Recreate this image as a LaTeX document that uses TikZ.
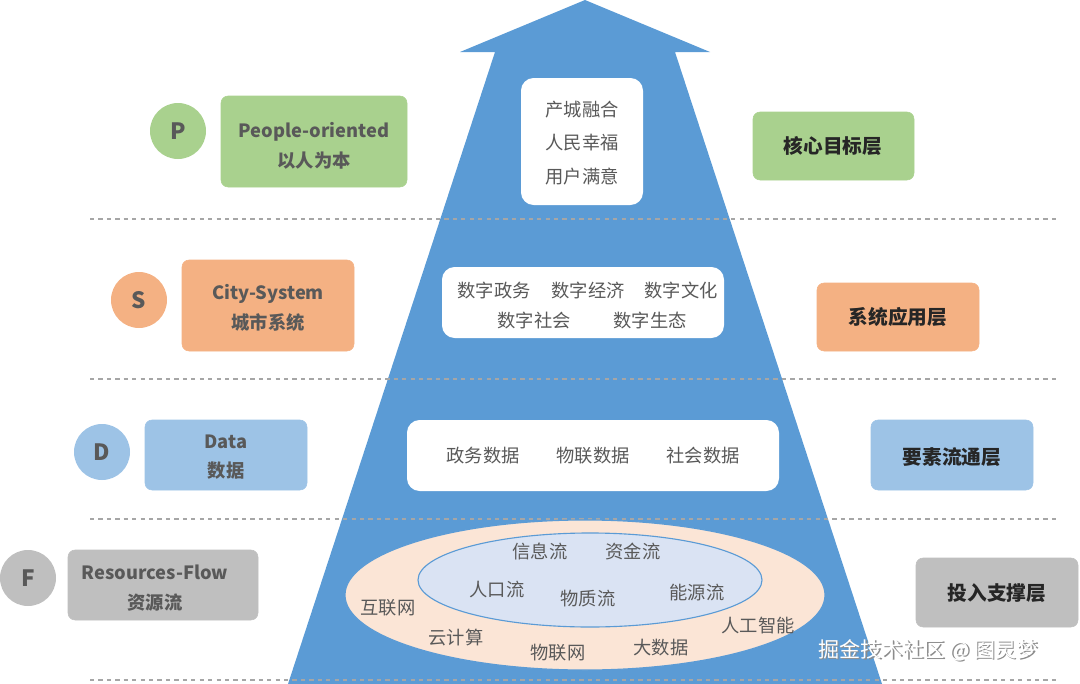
\documentclass[tikz,border=0pt]{standalone}
\usepackage{fontspec}
\setmainfont{Noto Sans CJK SC}
\usetikzlibrary{calc,positioning}
\definecolor{pyrblue}{HTML}{5B9BD5}
\definecolor{pgreen}{HTML}{A9D18E}
\definecolor{sorange}{HTML}{F4B183}
\definecolor{dblue}{HTML}{9DC3E6}
\definecolor{fgray}{HTML}{BFBFBF}
\definecolor{txtgray}{HTML}{595959}
\definecolor{peach}{HTML}{FBE5D6}
\definecolor{lblue}{HTML}{DAE3F3}
\tikzset{
  lettercirc/.style={circle,minimum size=56\pxu,font=\fontsize{16}{18}\selectfont\bfseries,text=txtgray},
  tagbox/.style={rounded corners=5pt,align=center,font=\fontsize{13}{21}\selectfont\bfseries,text=txtgray,inner sep=0pt},
  layerbox/.style={rounded corners=5pt,font=\fontsize{14}{16}\selectfont\bfseries,text=black!85},
  whitebox/.style={fill=white,rounded corners=9pt},
  item/.style={font=\fontsize{13}{15}\selectfont,text=txtgray},
  sepline/.style={gray!70,dashed,thick}
}
\newlength\pxu \setlength\pxu{0.025cm}
\begin{document}
\begin{tikzpicture}[x=0.025cm,y=-0.025cm]
\useasboundingbox (0,0) rectangle (1080,684);
% pyramid
\fill[pyrblue] (585,0) -- (710,52) -- (675,52) -- (882,684) -- (288,684) -- (495,52) -- (460,52) -- cycle;
% separators
\foreach \yy in {219,379,519,680}
  \draw[sepline] (90,\yy) -- (1060,\yy);
% left tags
\node[lettercirc,fill=pgreen] (pc) at (178,131) {P};
\filldraw[pgreen,tagbox] (221,96) rectangle (407,187);
\node[tagbox] (pt) at (314,146) {People-oriented\\以人为本};
\node[lettercirc,fill=sorange] (sc) at (139,300) {S};
\filldraw[sorange,tagbox] (182,260) rectangle (354,351);
\node[tagbox] (st) at (268,308) {City-System\\城市系统};
\node[lettercirc,fill=dblue] (dc) at (102,452) {D};
\filldraw[dblue,tagbox] (145,420) rectangle (307,490);
\node[tagbox] (dt) at (226,457) {Data\\数据};
\node[lettercirc,fill=fgray] (fc) at (28,578) {F};
\filldraw[fgray,tagbox] (68,550) rectangle (258,620);
\node[tagbox] (ft) at (155,588) {Resources-Flow\\资源流};
% right layer boxes
\filldraw[pgreen,layerbox] (753,112) rectangle (914,180);
\node[layerbox] (l1) at (833,146) {核心目标层};
\filldraw[sorange,layerbox] (817,283) rectangle (979,351);
\node[layerbox] (l2) at (898,317) {系统应用层};
\filldraw[dblue,layerbox] (871,420) rectangle (1033,490);
\node[layerbox] (l3) at (952,457) {要素流通层};
\filldraw[fgray,layerbox] (916,558) rectangle (1078,627);
\node[layerbox] (l4) at (997,593) {投入支撑层};
% white boxes
\fill[whitebox] (521,78) rectangle (643,205);
\node[item,align=center,font=\fontsize{13}{24}\selectfont] (goal) at (582,143) {产城融合\\人民幸福\\用户满意};
\fill[whitebox] (442,267) rectangle (724,338);
\node[item] (a1) at (494,291) {数字政务};
\node[item] (a2) at (588,291) {数字经济};
\node[item] (a3) at (681,291) {数字文化};
\node[item] (a4) at (534,321) {数字社会};
\node[item] (a5) at (650,321) {数字生态};
\fill[whitebox] (407,420) rectangle (779,491);
\node[item] (b1) at (483,456) {政务数据};
\node[item] (b2) at (593,456) {物联数据};
\node[item] (b3) at (703,456) {社会数据};
% ellipses
\filldraw[fill=peach,draw=pyrblue,thick] (585,595) ellipse [x radius=240,y radius=75];
\filldraw[fill=lblue,draw=pyrblue,thick] (590,580) ellipse [x radius=172,y radius=47];
\node[item] (c1) at (540,551) {信息流};
\node[item] (c2) at (633,551) {资金流};
\node[item] (c3) at (497,590) {人口流};
\node[item] (c4) at (588,599) {物质流};
\node[item] (c5) at (697,593) {能源流};
\node[item] (e1) at (388,608) {互联网};
\node[item] (e2) at (456,638) {云计算};
\node[item] (e3) at (558,653) {物联网};
\node[item] (e4) at (661,648) {大数据};
\node[item] (e5) at (758,626) {人工智能};
% watermark
\node[text=black!45,font=\fontsize{15}{17}\selectfont] at (929.5,651.5) {掘金技术社区 @ 图灵梦};
\node[text=white,font=\fontsize{15}{17}\selectfont] (wm) at (928,650) {掘金技术社区 @ 图灵梦};
\end{tikzpicture}
\end{document}
